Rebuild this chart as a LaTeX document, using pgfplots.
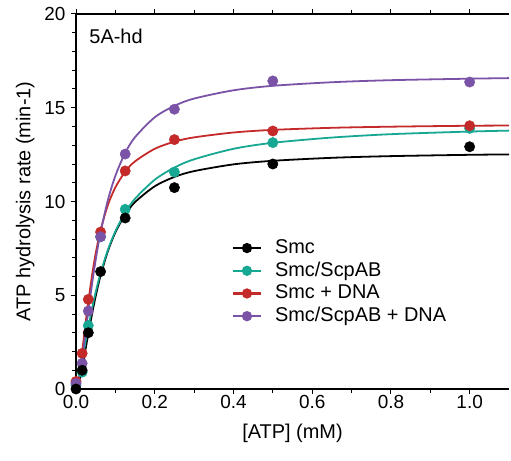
\documentclass[border=0pt]{standalone}
\usepackage{fontspec}
\setmainfont{Liberation Sans}
\usepackage{pgfplots}
\pgfplotsset{compat=1.18}
\definecolor{cteal}{RGB}{22,168,146}
\definecolor{cred}{RGB}{196,42,42}
\definecolor{cpurple}{RGB}{122,82,166}
\begin{document}
\begin{tikzpicture}
\begin{axis}[name=ax,
  scale only axis, width=433bp, height=375bp,
  xmin=0, xmax=1.1, ymin=0, ymax=20,
  xtick={0,0.2,...,1.0}, ytick={0,5,10,15,20},
  minor x tick num=1, minor y tick num=4,
  axis x line*=box, axis y line*=left,
  x axis line style={-}, y axis line style={-},
  tick align=outside, major tick length=5bp, minor tick length=3.5bp,
  every tick/.style={black, line width=1pt},
  axis line style={line width=1.3pt},
  /pgf/number format/assume math mode=true,
  tick label style={font=\fontsize{19}{19}\selectfont},
  xticklabel style={yshift=2.5bp, /pgf/number format/.cd, fixed, fixed zerofill, precision=1},
  yticklabel style={xshift=-2bp},
  label style={font=\fontsize{20}{20}\selectfont},
  xlabel style={yshift=-9bp}, ylabel style={yshift=3bp},
  xlabel={[ATP] (mM)}, ylabel={ATP hydrolysis rate (min-1)},
  legend style={at={(0.3596,0.401)}, anchor=north west, draw=none, fill=none,
    inner sep=0pt, font=\fontsize{20}{20}\selectfont, row sep=4.2bp, column sep=13bp,
    nodes={inner sep=0pt, text height=14.5bp, text depth=4bp}},
  legend cell align=left,
  legend image code/.code={\draw[mark repeat=2,mark phase=2,#1] plot coordinates {(0bp,0bp) (14bp,0bp) (28bp,0bp)};},
]
% fitted curves
\addplot[black, line width=1.8pt, smooth, forget plot] coordinates {
(0,0) (0.01,0.59) (0.02,1.63) (0.03,2.79) (0.045,4.45) (0.06,5.85) (0.08,7.29)
(0.1,8.35) (0.125,9.30) (0.15,9.97) (0.2,10.81) (0.25,11.31) (0.3,11.62)
(0.4,11.98) (0.5,12.17) (0.65,12.33) (0.8,12.42) (1.0,12.49) (1.1,12.51)};
\addplot[cteal, line width=1.8pt, smooth, forget plot] coordinates {
(0,0) (0.01,0.87) (0.02,2.03) (0.03,3.17) (0.045,4.71) (0.06,6.00) (0.08,7.36)
(0.1,8.41) (0.125,9.40) (0.15,10.15) (0.2,11.16) (0.25,11.81) (0.3,12.25)
(0.4,12.81) (0.5,13.13) (0.65,13.41) (0.8,13.59) (1.0,13.73) (1.1,13.78)};
\addplot[cred, line width=1.8pt, smooth, forget plot] coordinates {
(0,0) (0.01,1.04) (0.02,2.75) (0.03,4.46) (0.045,6.63) (0.06,8.25) (0.08,9.75)
(0.1,10.75) (0.125,11.59) (0.15,12.14) (0.2,12.81) (0.25,13.19) (0.3,13.42)
(0.4,13.68) (0.5,13.82) (0.65,13.93) (0.8,13.99) (1.0,14.04) (1.1,14.05)};
\addplot[cpurple, line width=1.8pt, smooth, forget plot] coordinates {
(0,0) (0.01,0.84) (0.02,2.32) (0.03,3.94) (0.045,6.21) (0.06,8.09) (0.08,9.99)
(0.1,11.37) (0.125,12.59) (0.15,13.43) (0.2,14.49) (0.25,15.10) (0.3,15.49)
(0.4,15.93) (0.5,16.17) (0.65,16.36) (0.8,16.47) (1.0,16.55) (1.1,16.58)};
% measured points
\addplot[only marks, mark=*, mark size=5.2bp, cteal, forget plot] coordinates {
(0,0.2) (0.0156,0.9) (0.03125,3.38) (0.0625,8.12) (0.125,9.58) (0.25,11.57) (0.5,13.14) (1.0,13.9)};
\addplot[only marks, mark=*, mark size=5.2bp, cred, forget plot] coordinates {
(0,0.4) (0.0156,1.9) (0.03125,4.78) (0.0625,8.37) (0.125,11.63) (0.25,13.3) (0.5,13.76) (1.0,14.04)};
\addplot[only marks, mark=*, mark size=5.2bp, cpurple, forget plot] coordinates {
(0,0.3) (0.0156,1.37) (0.03125,4.16) (0.0625,8.12) (0.125,12.53) (0.25,14.92) (0.5,16.43) (1.0,16.37)};
\addplot[only marks, mark=*, mark size=5.2bp, black, forget plot] coordinates {
(0,0) (0.0156,1.0) (0.03125,3.0) (0.0625,6.26) (0.125,9.12) (0.25,10.74) (0.5,12.0) (1.0,12.92)};
\addlegendimage{black, line width=2.2pt, mark=*, mark size=4bp}
\addlegendentry{Smc}
\addlegendimage{cteal, line width=2.2pt, mark=*, mark size=4bp}
\addlegendentry{Smc/ScpAB}
\addlegendimage{cred, line width=2.2pt, mark=*, mark size=4bp}
\addlegendentry{Smc + DNA}
\addlegendimage{cpurple, line width=2.2pt, mark=*, mark size=4bp}
\addlegendentry{Smc/ScpAB + DNA}
\node[anchor=west, font=\fontsize{20}{20}\selectfont] at (rel axis cs:0.023,0.94) {5A-hd};
\end{axis}
\pgfresetboundingbox
\path ([xshift=-76bp,yshift=-72bp]ax.south west) rectangle ([xshift=2bp,yshift=14bp]ax.north east);
\end{tikzpicture}
\end{document}
